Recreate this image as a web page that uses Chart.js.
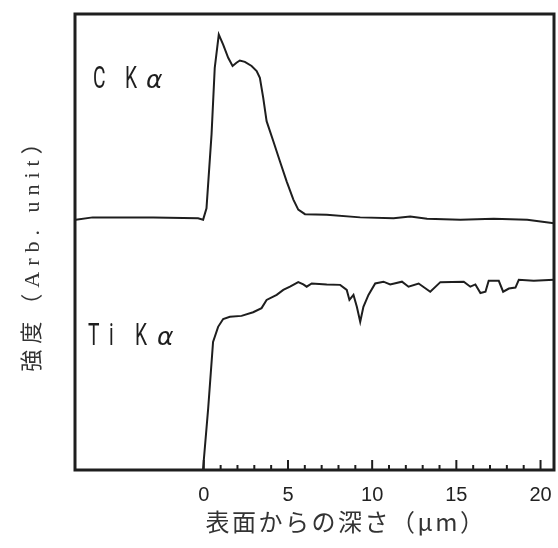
<!DOCTYPE html>
<html>
<head>
<meta charset="utf-8">
<script src="https://cdn.jsdelivr.net/npm/chart.js@4/dist/chart.umd.min.js"></script>
<style>
  body { margin: 0; background: #fff; }
  #wrap { width: 558px; height: 548px; }
</style>
</head>
<body>
<div id="wrap"><canvas id="depth-chart"></canvas></div>
<script>
// depth (um) and intensity
let cDepth = [-7.6, -6.6, -3, -0.34, -0.04, 0.16, 0.46, 0.65, 0.89, 1.15, 1.45, 1.71, 1.94, 2.14, 2.44, 2.84, 3.14, 3.33, 3.53, 3.73, 4.13, 4.52, 4.92, 5.32, 5.61, 6.01, 7.3, 9.29, 11.27, 12.26, 13.26, 15.24, 17.22, 19.21, 20.8];
let cIntensity = [54.9, 55.4, 55.4, 55.2, 54.9, 57.4, 73.6, 88.2, 95.5, 93.3, 90.4, 88.6, 89.3, 89.8, 89.5, 88.6, 87.5, 86.0, 81.6, 76.5, 72.1, 67.7, 63.3, 59.3, 57.1, 56.1, 56.0, 55.4, 55.2, 55.6, 55.1, 54.9, 55.1, 54.9, 54.1];

let tiDepth = [-0.05, 0.26, 0.55, 0.85, 1.15, 1.55, 2.24, 2.93, 3.43, 3.73, 4.33, 4.72, 5.12, 5.61, 5.91, 6.11, 6.41, 7.3, 8.1, 8.49, 8.65, 8.89, 9.09, 9.29, 9.48, 9.78, 10.18, 10.67, 11.07, 11.77, 12.16, 12.76, 13.45, 14.05, 15.44, 15.83, 16.13, 16.43, 16.73, 16.92, 17.52, 17.78, 18.12, 18.51, 18.71, 19.6, 20.8];
let tiIntensity = [0, 13.5, 28.1, 31.4, 33.1, 33.6, 33.8, 34.6, 35.5, 37.3, 38.4, 39.5, 40.2, 41.2, 40.7, 40.2, 40.9, 40.7, 40.6, 39.5, 37.3, 38.4, 35.8, 32.5, 35.8, 38.4, 40.9, 41.3, 40.7, 41.3, 40.2, 40.9, 39.1, 41.2, 41.3, 40.2, 40.7, 38.8, 39.1, 41.5, 41.5, 39.1, 39.8, 40.0, 41.7, 41.5, 41.7];

let tickLabels = [0, 5, 10, 15, 20];
let minorTicks = [0, 1, 2, 3, 4, 5, 6, 7, 8, 9, 10, 11, 12, 13, 14, 15, 16, 17, 18, 19, 20];
let seriesNames = ['C Kα', 'Ti Kα'];
let xTitle = '表面からの深さ（μm）';
let yTitle = '強度（Arb. unit）';

const ink = '#1e1e1e';

function toPoints(xs, ys) {
    return xs.map((x, i) => ({x: x, y: ys[i]}));
}

// box, inward ticks, labels ---------
const framePlugin = {
    id: 'frame',
    afterDatasetsDraw(chart) {
        const ctx = chart.ctx;
        const area = chart.chartArea;
        const xs = chart.scales.x;
        ctx.save();
        ctx.strokeStyle = ink;
        ctx.lineWidth = 2;
        minorTicks.forEach(v => {
            let px = xs.getPixelForValue(v);
            let len = v % 5 === 0 ? 10 : 5;
            ctx.beginPath();
            ctx.moveTo(px, area.bottom);
            ctx.lineTo(px, area.bottom - len);
            ctx.stroke();
        });
        ctx.lineWidth = 3;
        ctx.strokeRect(area.left, area.top, area.right - area.left, area.bottom - area.top);
        ctx.restore();
    },
    afterDraw(chart) {
        const ctx = chart.ctx;
        const area = chart.chartArea;
        ctx.save();
        ctx.fillStyle = ink;

        // series names, latin letters drawn narrow like the original lettering
        function drawName(name, x, y, gaps) {
            let parts = name.replace(' ', '').split('');
            let cx = x;
            parts.forEach((ch, i) => {
                ctx.save();
                ctx.translate(cx, y);
                if (ch === 'α') {
                    ctx.font = 'italic 25px "DejaVu Sans", sans-serif';
                } else {
                    ctx.scale(0.62, 1);
                    ctx.font = '31px Roboto, "DejaVu Sans", sans-serif';
                }
                ctx.fillText(ch, 0, 0);
                ctx.restore();
                cx += gaps[i] || 0;
            });
        }
        drawName(seriesNames[0], area.left + 18, area.top + 74, [32, 21]);
        drawName(seriesNames[1], area.left + 13, area.top + 331, [21, 26, 22]);

        // x title, sits right of the axis centre in the original
        ctx.save();
        ctx.font = '24px "Noto Sans CJK JP", sans-serif';
        ctx.letterSpacing = '2.5px';
        ctx.textAlign = 'center';
        ctx.textBaseline = 'middle';
        ctx.fillStyle = '#333';
        ctx.fillText(xTitle, 346, 522);
        ctx.restore();

        // y title, rotated
        ctx.translate(33, 249);
        ctx.rotate(-Math.PI / 2);
        ctx.font = '22px "Liberation Serif", "Noto Sans CJK JP", serif';
        ctx.letterSpacing = '6px';
        ctx.textAlign = 'center';
        ctx.textBaseline = 'middle';
        ctx.fillStyle = '#333';
        ctx.fillText(yTitle, 0, 0);
        ctx.restore();
    }
};

const ctx = document.getElementById('depth-chart').getContext('2d');

let chart = new Chart(ctx, {
    type: 'scatter',
    data: {
        datasets: [{
            label: seriesNames[0],
            data: toPoints(cDepth, cIntensity),
            showLine: true,
            borderColor: ink,
            borderWidth: 2,
            pointRadius: 0,
            tension: 0
        }, {
            label: seriesNames[1],
            data: toPoints(tiDepth, tiIntensity),
            showLine: true,
            borderColor: ink,
            borderWidth: 2,
            pointRadius: 0,
            tension: 0
        }]
    },
    options: {
        responsive: true,
        maintainAspectRatio: false,
        animation: false,
        layout: {
            padding: {left: 75, right: 4, top: 14, bottom: 28}
        },
        plugins: {
            legend: {display: false},
            tooltip: {enabled: false}
        },
        scales: {
            x: {
                type: 'linear',
                min: -7.65,
                max: 20.8,
                grid: {display: false, drawTicks: false},
                border: {display: false},
                afterBuildTicks: (scale) => {
                    scale.ticks = tickLabels.map(v => ({value: v}));
                },
                // the "20" label may hang over the edge, keep the box full width
                afterFit: (scale) => {
                    scale.paddingLeft = 0;
                    scale.paddingRight = 0;
                },
                ticks: {
                    color: '#222',
                    padding: 13,
                    maxRotation: 0,
                    autoSkip: false,
                    font: {family: '"Liberation Sans", Arial, sans-serif', size: 20}
                }
            },
            y: {
                display: false,
                min: 0,
                max: 100
            }
        }
    },
    plugins: [framePlugin]
});
</script>
</body>
</html>
